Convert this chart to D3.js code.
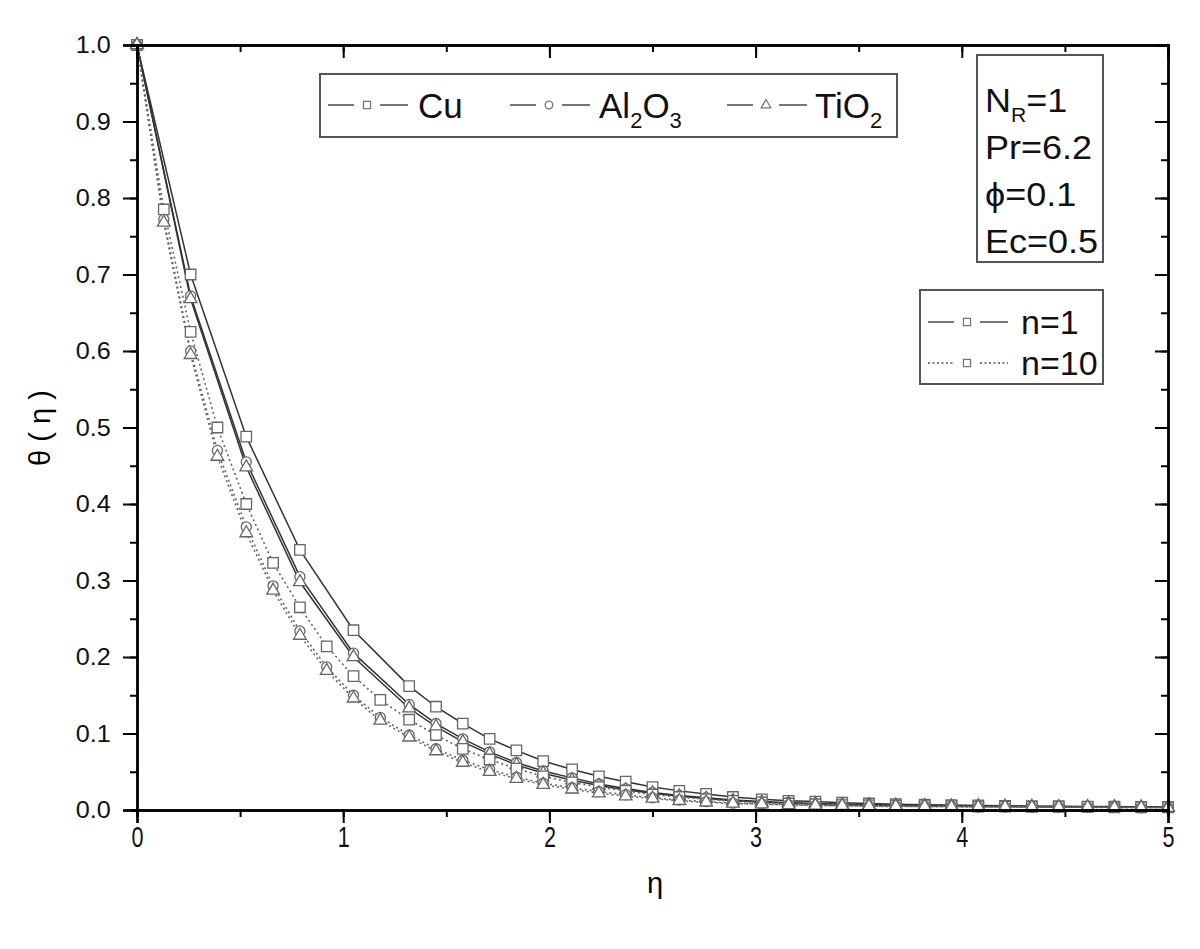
<!DOCTYPE html>
<html>
<head>
<meta charset="utf-8">
<title>theta(eta) profiles</title>
<script src="https://d3js.org/d3.v7.min.js"></script>
<style>
  body { margin: 0; background: #fff; }
  svg { display: block; }
  .tick text { font-family: "Liberation Sans", Arial, sans-serif; fill: #111; }
  .legend text { font-family: "Liberation Sans", Arial, sans-serif; fill: #111; }
</style>
</head>
<body>
<div id="chart"></div>
<script>
var width = 1200, height = 949;

// eta grid of the n=10 runs (every point has a marker)
var etaN10 = [0, 0.13, 0.26, 0.39, 0.53, 0.66, 0.79, 0.92, 1.05, 1.18, 1.32, 1.45, 1.58, 1.71,
  1.84, 1.97, 2.11, 2.24, 2.37, 2.50, 2.63, 2.76, 2.89, 3.03, 3.16, 3.29, 3.42, 3.55, 3.68,
  3.82, 3.95, 4.08, 4.21, 4.34, 4.47, 4.61, 4.74, 4.87, 5.00];
// eta grid of the n=1 runs (coarser near the wall)
var etaN1 = [0, 0.26, 0.53, 0.79, 1.05, 1.32, 1.45, 1.58, 1.71, 1.84, 1.97, 2.11, 2.24, 2.37,
  2.50, 2.63, 2.76, 2.89, 3.03, 3.16, 3.29, 3.42, 3.55, 3.68, 3.82, 3.95, 4.08, 4.21, 4.34,
  4.47, 4.61, 4.74, 4.87, 5.00];

var cuN1 = [1, 0.70, 0.488, 0.34, 0.235, 0.162, 0.135, 0.113, 0.093, 0.078, 0.064, 0.053, 0.044,
  0.037, 0.030, 0.025, 0.021, 0.017, 0.014, 0.012, 0.011, 0.0095, 0.0085, 0.0075, 0.007, 0.0065,
  0.006, 0.0055, 0.005, 0.005, 0.0045, 0.0045, 0.004, 0.004];
var alN1 = [1, 0.672, 0.455, 0.305, 0.205, 0.138, 0.113, 0.093, 0.076, 0.062, 0.051, 0.042, 0.034,
  0.028, 0.023, 0.019, 0.016, 0.013, 0.011, 0.0095, 0.0085, 0.0075, 0.007, 0.0065, 0.006, 0.0055,
  0.005, 0.005, 0.0045, 0.0045, 0.004, 0.004, 0.004, 0.0035];
var tiN1 = [1, 0.668, 0.448, 0.298, 0.200, 0.133, 0.109, 0.089, 0.073, 0.059, 0.048, 0.039, 0.032,
  0.026, 0.022, 0.018, 0.015, 0.012, 0.010, 0.009, 0.008, 0.007, 0.0065, 0.006, 0.0055, 0.005,
  0.005, 0.0045, 0.0045, 0.004, 0.004, 0.004, 0.0035, 0.0035];

var cuN10 = [1, 0.785, 0.625, 0.50, 0.40, 0.323, 0.265, 0.214, 0.175, 0.144, 0.118, 0.098, 0.080,
  0.066, 0.054, 0.044, 0.036, 0.030, 0.025, 0.020, 0.017, 0.014, 0.012, 0.010, 0.0085, 0.0075,
  0.0065, 0.006, 0.0055, 0.005, 0.005, 0.0045, 0.0045, 0.004, 0.004, 0.004, 0.0035, 0.0035, 0.0035];
var alN10 = [1, 0.772, 0.600, 0.470, 0.370, 0.293, 0.234, 0.187, 0.150, 0.121, 0.098, 0.080, 0.065,
  0.053, 0.043, 0.035, 0.029, 0.024, 0.020, 0.016, 0.013, 0.011, 0.009, 0.008, 0.007, 0.006,
  0.0055, 0.005, 0.005, 0.0045, 0.0045, 0.004, 0.004, 0.004, 0.0035, 0.0035, 0.0035, 0.003, 0.003];
var tiN10 = [1, 0.768, 0.595, 0.462, 0.362, 0.287, 0.228, 0.182, 0.146, 0.117, 0.095, 0.077, 0.062,
  0.050, 0.041, 0.033, 0.027, 0.022, 0.018, 0.015, 0.012, 0.010, 0.0085, 0.0075, 0.0065, 0.006,
  0.0055, 0.005, 0.0045, 0.0045, 0.004, 0.004, 0.004, 0.0035, 0.0035, 0.0035, 0.003, 0.003, 0.003];

var xTicks = [0, 1, 2, 3, 4, 5];
var yTicks = [0, 0.1, 0.2, 0.3, 0.4, 0.5, 0.6, 0.7, 0.8, 0.9, 1.0];
var paramLines = [["N", "R", "=1"], ["Pr=6.2"], ["\u03d5=0.1"], ["Ec=0.5"]];

var series = [
  { eta: etaN1, th: cuN1, sym: d3.symbolSquare, size: 110, dotted: false },
  { eta: etaN1, th: alN1, sym: d3.symbolCircle, size: 80, dotted: false },
  { eta: etaN1, th: tiN1, sym: d3.symbolTriangle, size: 70, dotted: false },
  { eta: etaN10, th: cuN10, sym: d3.symbolSquare, size: 110, dotted: true },
  { eta: etaN10, th: alN10, sym: d3.symbolCircle, size: 80, dotted: true },
  { eta: etaN10, th: tiN10, sym: d3.symbolTriangle, size: 70, dotted: true }
];

// plot frame in pixels
var plotL = 137, plotR = 1168, plotT = 45, plotB = 810;
var x = d3.scaleLinear().domain([0, 5]).range([plotL, plotR]);
var y = d3.scaleLinear().domain([0, 1]).range([plotB, plotT]);

var svg = d3.select("#chart").append("svg").attr("width", width).attr("height", height);

// curves
var line = d3.line().x(function(d) { return x(d[0]); }).y(function(d) { return y(d[1]); });
series.forEach(function(s) {
  var pts = s.eta.map(function(e, i) { return [e, s.th[i]]; });
  svg.append("path").datum(pts)
    .attr("d", line)
    .attr("fill", "none")
    .attr("stroke", s.dotted ? "#666" : "#333")
    .attr("stroke-width", s.dotted ? 1.6 : 1.5)
    .attr("stroke-dasharray", s.dotted ? "2,3" : null);
});
series.forEach(function(s) {
  var pts = s.eta.map(function(e, i) { return [e, s.th[i]]; });
  svg.append("g").selectAll("path").data(pts).enter().append("path")
    .attr("d", d3.symbol().type(s.sym).size(s.size))
    .attr("transform", function(d) { return "translate(" + x(d[0]) + "," + y(d[1]) + ")"; })
    .attr("fill", "white")
    .attr("stroke", "#666")
    .attr("stroke-width", 1.3);
});

// axes
function styleAxis(g) {
  g.select(".domain").attr("stroke", "#000").attr("stroke-width", 2.4);
  g.selectAll(".tick line").attr("stroke", "#000").attr("stroke-width", 2);
}
var minorX = d3.range(0, 11).map(function(i) { return i * 0.5; });
var minorY = d3.range(0, 21).map(function(i) { return i * 0.05; });

svg.append("g").attr("transform", "translate(0," + plotB + ")")
  .call(d3.axisBottom(x).tickValues(minorX).tickSize(7).tickFormat("")).call(styleAxis);
svg.append("g").attr("transform", "translate(0," + plotB + ")")
  .call(d3.axisBottom(x).tickValues(xTicks).tickSize(13).tickPadding(3).tickFormat(d3.format("d")))
  .call(styleAxis)
  .selectAll("text").attr("font-size", 30).attr("transform", "scale(0.72,1)");

svg.append("g").attr("transform", "translate(0," + plotT + ")")
  .call(d3.axisTop(x).tickValues(minorX).tickSize(-7).tickFormat("")).call(styleAxis);
svg.append("g").attr("transform", "translate(0," + plotT + ")")
  .call(d3.axisTop(x).tickValues(xTicks).tickSize(-13).tickFormat("")).call(styleAxis);

svg.append("g").attr("transform", "translate(" + plotL + ",0)")
  .call(d3.axisLeft(y).tickValues(minorY).tickSize(7).tickFormat("")).call(styleAxis);
svg.append("g").attr("transform", "translate(" + plotL + ",0)")
  .call(d3.axisLeft(y).tickValues(yTicks).tickSize(14).tickPadding(11).tickFormat(d3.format(".1f")))
  .call(styleAxis)
  .selectAll("text").attr("font-size", 24).attr("transform", "scale(1.05,1)");

svg.append("g").attr("transform", "translate(" + plotR + ",0)")
  .call(d3.axisRight(y).tickValues(minorY).tickSize(-7).tickFormat("")).call(styleAxis);
svg.append("g").attr("transform", "translate(" + plotR + ",0)")
  .call(d3.axisRight(y).tickValues(yTicks).tickSize(-13).tickFormat("")).call(styleAxis);

// axis titles
svg.append("text").attr("x", 655).attr("y", 893)
  .attr("text-anchor", "middle").attr("font-family", "Liberation Sans, Arial, sans-serif")
  .attr("font-size", 29).text("\u03b7");
svg.append("text").attr("transform", "translate(50,428) rotate(-90)")
  .attr("text-anchor", "middle").attr("font-family", "Liberation Sans, Arial, sans-serif")
  .attr("font-size", 29).text("\u03b8 ( \u03b7 )");

// legends
var lg = svg.append("g").attr("class", "legend");

function sample(g, x0, yc, sym, size, dotted) {
  g.append("line").attr("x1", x0).attr("x2", x0 + 26).attr("y1", yc).attr("y2", yc)
    .attr("stroke", "#777").attr("stroke-width", 2).attr("stroke-dasharray", dotted ? "2,2.5" : null);
  g.append("line").attr("x1", x0 + 52).attr("x2", x0 + 80).attr("y1", yc).attr("y2", yc)
    .attr("stroke", "#777").attr("stroke-width", 2).attr("stroke-dasharray", dotted ? "2,2.5" : null);
  g.append("path").attr("d", d3.symbol().type(sym).size(size))
    .attr("transform", "translate(" + (x0 + 39) + "," + yc + ")")
    .attr("fill", "white").attr("stroke", "#777").attr("stroke-width", 1.3);
}

lg.append("rect").attr("x", 320).attr("y", 74).attr("width", 577).attr("height", 63)
  .attr("fill", "white").attr("stroke", "#555").attr("stroke-width", 2);
sample(lg, 328, 105, d3.symbolSquare, 50, false);
lg.append("text").attr("x", 418).attr("y", 118).attr("font-size", 35).text("Cu");
sample(lg, 510, 105, d3.symbolCircle, 45, false);
var t2 = lg.append("text").attr("x", 599).attr("y", 118).attr("font-size", 35);
t2.append("tspan").text("Al");
t2.append("tspan").attr("font-size", 22).attr("dy", 10).text("2");
t2.append("tspan").attr("dy", -10).text("O");
t2.append("tspan").attr("font-size", 22).attr("dy", 10).text("3");
sample(lg, 727, 105, d3.symbolTriangle, 40, false);
var t3 = lg.append("text").attr("x", 815).attr("y", 118).attr("font-size", 35);
t3.append("tspan").text("TiO");
t3.append("tspan").attr("font-size", 22).attr("dy", 10).text("2");

lg.append("rect").attr("x", 977).attr("y", 55).attr("width", 126).attr("height", 207)
  .attr("fill", "white").attr("stroke", "#555").attr("stroke-width", 2);
paramLines.forEach(function(p, i) {
  var t = lg.append("text").attr("font-size", 34)
    .attr("transform", "translate(985," + (112 + i * 47) + ") scale(1.06,1)");
  if (p.length === 3) {
    t.append("tspan").text(p[0]);
    t.append("tspan").attr("font-size", 20).attr("dy", 10).text(p[1]);
    t.append("tspan").attr("dy", -10).text(p[2]);
  } else {
    t.text(p[0]);
  }
});

lg.append("rect").attr("x", 920).attr("y", 290).attr("width", 183).attr("height", 94)
  .attr("fill", "white").attr("stroke", "#555").attr("stroke-width", 2);
sample(lg, 928, 322, d3.symbolSquare, 50, false);
lg.append("text").attr("x", 1021).attr("y", 334).attr("font-size", 34).text("n=1");
sample(lg, 928, 363, d3.symbolSquare, 50, true);
lg.append("text").attr("x", 1021).attr("y", 375).attr("font-size", 34).text("n=10");
</script>
</body>
</html>
